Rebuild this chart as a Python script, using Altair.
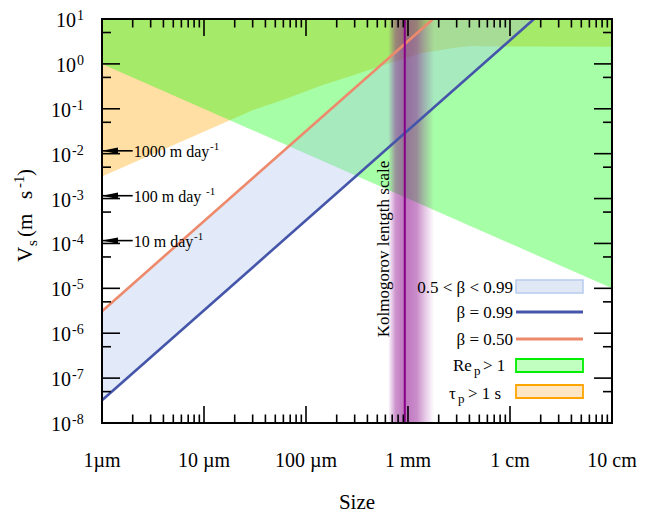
import altair as alt
import pandas as pd

# plot area in page pixels
OX, OY = 102, 19
W, H = 510, 404
FONT = "Liberation Serif"

# ---------------- data ----------------
size_domain = [1e-6, 1e-1]          # m
v_domain = [1e-8, 1e1]              # m/s

size_ticks = [1e-6, 1e-5, 1e-4, 1e-3, 1e-2, 1e-1]
size_labels = ["1µm", "10 µm", "100 µm", "1 mm", "1 cm", "10 cm"]
size_minor_mult = [2, 3, 4, 5, 6, 7, 8, 9]
size_minor_decades = [1e-6, 1e-5, 1e-4, 1e-3, 1e-2]

v_ticks = [1e1, 1e0, 1e-1, 1e-2, 1e-3, 1e-4, 1e-5, 1e-6, 1e-7, 1e-8]
v_exps = ["1", "0", "-1", "-2", "-3", "-4", "-5", "-6", "-7", "-8"]
v_minor = [5e0, 5e-1, 5e-2, 5e-3, 5e-4, 5e-5, 5e-6, 5e-7, 5e-8]

# beta lines (Stokes settling)
beta99_size = [1e-6, 1.72e-2]
beta99_v = [3.2e-8, 1e1]
beta50_size = [1e-6, 1.76e-3]
beta50_v = [3.1e-6, 1e1]

# 0.5 < beta < 0.99 band
band_size = [1e-6, 1.76e-3, 1.72e-2]
band_low = [3.2e-8, 1.0e-1, 1e1]
band_high = [3.1e-6, 1e1, 1e1]

# Re_p > 1 region (above this boundary)
rep_size = [1e-6, 1e-1]
rep_v = [1.0, 1e-5]

# tau_p > 1 s region (above this boundary)
tau_size = [1e-6, 3.0e-5, 6.5e-5, 1.37e-4, 2.9e-4, 6.2e-4, 1.31e-3, 2.76e-3, 4.06e-3, 1e-2, 1e-1]
tau_v = [3.1e-3, 9.3e-2, 0.17, 0.32, 0.56, 1.0, 1.7, 2.26, 2.5, 2.45, 2.4]

# Kolmogorov length scale
kolmo_size = [9.3e-4]
kolmo_band = [6.4e-4, 1.8e-3]

# arrows: 1000, 100, 10 m/day
arrow_v = [1.157e-2, 1.157e-3, 1.157e-4]
arrow_end = [2.0e-6, 2.0e-6, 2.0e-6]
arrow_text = ["1000 m day", "100 m  day", "10 m day"]
arrow_sup_x = [210, 206, 194]   # page px of the "-1" after each label

legend_labels = ["0.5 < β < 0.99", "β = 0.99", "β =  0.50"]

# ---------------- helpers ----------------
xs = alt.Scale(type="log", domain=size_domain, nice=False)
ys = alt.Scale(type="log", domain=v_domain, nice=False)


def X(f="size"):
    return alt.X(f"{f}:Q", scale=xs, axis=None)


def Y(f="v"):
    return alt.Y(f"{f}:Q", scale=ys, axis=None)


dummy = pd.DataFrame({"d": [0]})


def px(x):
    return x - OX


def py(y):
    return y - OY


def label(txt, x, y, size=17, align="left", baseline="middle", angle=0):
    """text placed at page pixel (x, y)"""
    return alt.Chart(dummy).mark_text(
        text=txt, font=FONT, fontSize=size, align=align, baseline=baseline,
        angle=angle, color="black"
    ).encode(x=alt.value(px(x)), y=alt.value(py(y)))


def prect(x1, x2, y1, y2, **kw):
    return alt.Chart(dummy).mark_rect(**kw).encode(
        x=alt.value(px(x1)), x2=alt.value(px(x2)), y=alt.value(py(y1)), y2=alt.value(py(y2)))


layers = []

# tau_p > 1 s (orange)
tau_df = pd.DataFrame({"size": tau_size, "v": tau_v, "top": [v_domain[1]] * len(tau_size)})
layers.append(alt.Chart(tau_df).mark_area(color="#ffa500", opacity=0.36, clip=True)
              .encode(x=X(), y=Y(), y2=alt.Y2("top:Q")))

# Re_p > 1 (green)
rep_df = pd.DataFrame({"size": rep_size, "v": rep_v, "top": [v_domain[1]] * len(rep_size)})
layers.append(alt.Chart(rep_df).mark_area(color="#00ff00", opacity=0.35, clip=True)
              .encode(x=X(), y=Y(), y2=alt.Y2("top:Q")))

# beta band
band_df = pd.DataFrame({"size": band_size, "v": band_low, "v2": band_high})
layers.append(alt.Chart(band_df).mark_area(color="#a8c0ee", opacity=0.33, clip=True)
              .encode(x=X(), y=Y(), y2=alt.Y2("v2:Q")))

# Kolmogorov gradient band
grad = alt.LinearGradient(
    gradient="linear", x1=0, x2=1, y1=0, y2=0,
    stops=[
        alt.GradientStop(color="rgba(136,0,136,0)", offset=0.0),
        alt.GradientStop(color="rgba(136,0,136,0.42)", offset=0.16),
        alt.GradientStop(color="rgba(136,0,136,0.55)", offset=0.36),
        alt.GradientStop(color="rgba(136,0,136,0.45)", offset=0.62),
        alt.GradientStop(color="rgba(136,0,136,0.22)", offset=0.8),
        alt.GradientStop(color="rgba(136,0,136,0)", offset=1.0),
    ],
)
kb_df = pd.DataFrame({"size": [kolmo_band[0]], "size2": [kolmo_band[1]]})
layers.append(alt.Chart(kb_df).mark_rect(fill=grad)
              .encode(x=X(), x2=alt.X2("size2:Q"), y=alt.value(0), y2=alt.value(H)))

# beta lines
b99 = pd.DataFrame({"size": beta99_size, "v": beta99_v})
b50 = pd.DataFrame({"size": beta50_size, "v": beta50_v})
layers.append(alt.Chart(b50).mark_line(color="#ee8a6c", strokeWidth=2.6, clip=True)
              .encode(x=X(), y=Y()))
layers.append(alt.Chart(b99).mark_line(color="#4455aa", strokeWidth=2.6, clip=True)
              .encode(x=X(), y=Y()))

# Kolmogorov line
kl = pd.DataFrame({"size": kolmo_size})
layers.append(alt.Chart(kl).mark_rule(color="#880088", strokeWidth=2)
              .encode(x=X(), y=alt.value(0), y2=alt.value(H)))
layers.append(label("Kolmogorov lentgth scale", 384, 249, size=17, align="center",
                    baseline="middle", angle=270))

# arrows
arr_df = pd.DataFrame({"size": [size_domain[0]] * 3, "size2": arrow_end, "v": arrow_v,
                       "t": arrow_text})
layers.append(alt.Chart(arr_df).mark_rule(color="black", strokeWidth=1.6)
              .encode(x=X(), x2=alt.X2("size2:Q"), y=Y()))
layers.append(alt.Chart(arr_df).mark_point(shape="M -1 0 L 1 -0.4 L 1 0.4 Z", filled=True,
                                           size=256, color="black", opacity=1, xOffset=8)
              .encode(x=X(), y=Y()))
arr_txt = pd.DataFrame({"size": arrow_end, "v": arrow_v, "t": arrow_text})
layers.append(alt.Chart(arr_txt).mark_text(font=FONT, fontSize=16, align="left",
                                           baseline="middle", dx=1, dy=1, color="black")
              .encode(x=X(), y=Y(), text="t:N"))
for sx, av in zip(arrow_sup_x, arrow_v):
    sup_df = pd.DataFrame({"v": [av]})
    layers.append(alt.Chart(sup_df).mark_text(text="-1", font=FONT, fontSize=11, align="left",
                                              baseline="middle", dy=-4, color="black")
                  .encode(x=alt.value(px(sx)), y=Y()))

# ticks (inward)
tick_df = pd.DataFrame({"size": size_ticks})
minor_df = pd.DataFrame({"size": [m * d for d in size_minor_decades for m in size_minor_mult]})
TW = 1.6
layers.append(alt.Chart(tick_df).mark_rule(color="black", strokeWidth=TW)
              .encode(x=X(), y=alt.value(0), y2=alt.value(17)))
layers.append(alt.Chart(tick_df).mark_rule(color="black", strokeWidth=TW)
              .encode(x=X(), y=alt.value(H), y2=alt.value(H - 17)))
layers.append(alt.Chart(minor_df).mark_rule(color="black", strokeWidth=TW)
              .encode(x=X(), y=alt.value(0), y2=alt.value(8.5)))
layers.append(alt.Chart(minor_df).mark_rule(color="black", strokeWidth=TW)
              .encode(x=X(), y=alt.value(H), y2=alt.value(H - 8.5)))

vt_df = pd.DataFrame({"v": v_ticks, "e": v_exps, "neg": [e.startswith("-") for e in v_exps]})
vm_df = pd.DataFrame({"v": v_minor})
layers.append(alt.Chart(vt_df).mark_rule(color="black", strokeWidth=TW)
              .encode(y=Y(), x=alt.value(0), x2=alt.value(18)))
layers.append(alt.Chart(vt_df).mark_rule(color="black", strokeWidth=TW)
              .encode(y=Y(), x=alt.value(W), x2=alt.value(W - 18)))
layers.append(alt.Chart(vm_df).mark_rule(color="black", strokeWidth=TW)
              .encode(y=Y(), x=alt.value(0), x2=alt.value(9)))
layers.append(alt.Chart(vm_df).mark_rule(color="black", strokeWidth=TW)
              .encode(y=Y(), x=alt.value(W), x2=alt.value(W - 9)))

# frame
layers.append(alt.Chart(dummy).mark_rect(filled=False, stroke="black", strokeWidth=2)
              .encode(x=alt.value(0), x2=alt.value(W), y=alt.value(0), y2=alt.value(H)))

# y tick labels "10^n"
for neg, base_x in [(True, 71), (False, 76)]:
    sub = alt.Chart(vt_df).transform_filter(alt.datum.neg == neg)
    layers.append(sub.mark_text(text="10", font=FONT, fontSize=20, align="right",
                                baseline="middle", dy=2, color="black")
                  .encode(y=Y(), x=alt.value(px(base_x))))
    layers.append(sub.mark_text(font=FONT, fontSize=14, align="left",
                                baseline="middle", dy=-3, color="black")
                  .encode(y=Y(), x=alt.value(px(base_x + 1)), text="e:N"))

# x tick labels
xl_df = pd.DataFrame({"size": size_ticks, "lab": size_labels})
layers.append(alt.Chart(xl_df).mark_text(font=FONT, fontSize=20, align="center",
                                         baseline="middle", color="black")
              .encode(x=X(), y=alt.value(py(461)), text="lab:N"))

# axis titles
layers.append(label("Size", 357, 509, size=21, align="center", baseline="alphabetic"))
layers.append(label("V", 32, 262, size=21, baseline="alphabetic", angle=270))
layers.append(label("s", 37, 246, size=15, baseline="alphabetic", angle=270))
layers.append(label("(m", 32, 237, size=21, baseline="alphabetic", angle=270))
layers.append(label("s", 32, 199, size=21, baseline="alphabetic", angle=270))
layers.append(label("-1", 24, 188, size=15, baseline="alphabetic", angle=270))
layers.append(label(")", 32, 176, size=21, baseline="alphabetic", angle=270))

# legend
layers.append(prect(516, 583, 280, 293, fill="#e0e8f5", stroke="#b8ccee", strokeWidth=1.5))
layers.append(alt.Chart(dummy).mark_rule(color="#4455aa", strokeWidth=3)
              .encode(x=alt.value(px(516)), x2=alt.value(px(583)), y=alt.value(py(312))))
layers.append(alt.Chart(dummy).mark_rule(color="#ee8a6c", strokeWidth=3)
              .encode(x=alt.value(px(516)), x2=alt.value(px(583)), y=alt.value(py(339))))
layers.append(prect(516, 583, 359, 372, fill="#c0ffc0", stroke="#00ee00", strokeWidth=1.8))
layers.append(prect(516, 583, 385, 398, fill="#ffe6c4", stroke="#ffa500", strokeWidth=1.8))

for txt, yy in zip(legend_labels, [288, 313, 340]):
    layers.append(label(txt, 513, yy, size=17, align="right"))
layers.append(label("Re", 453, 366, size=17))
layers.append(label("p", 474, 371, size=13))
layers.append(label("> 1", 483, 366, size=17))
layers.append(label("τ", 449, 394, size=17))
layers.append(label("p", 458, 399, size=13))
layers.append(label("> 1 s", 468, 394, size=17))

SVG_H = 508
chart = alt.layer(*layers).properties(
    width=W, height=H,
    autosize=alt.AutoSizeParams(type="none"),
    padding={"left": OX - 8, "top": OY - 8, "right": 40, "bottom": SVG_H - (OY - 8) - H},
).configure_view(stroke="transparent")

chart.save("out.html", embed_options={"renderer": "svg", "actions": False})
